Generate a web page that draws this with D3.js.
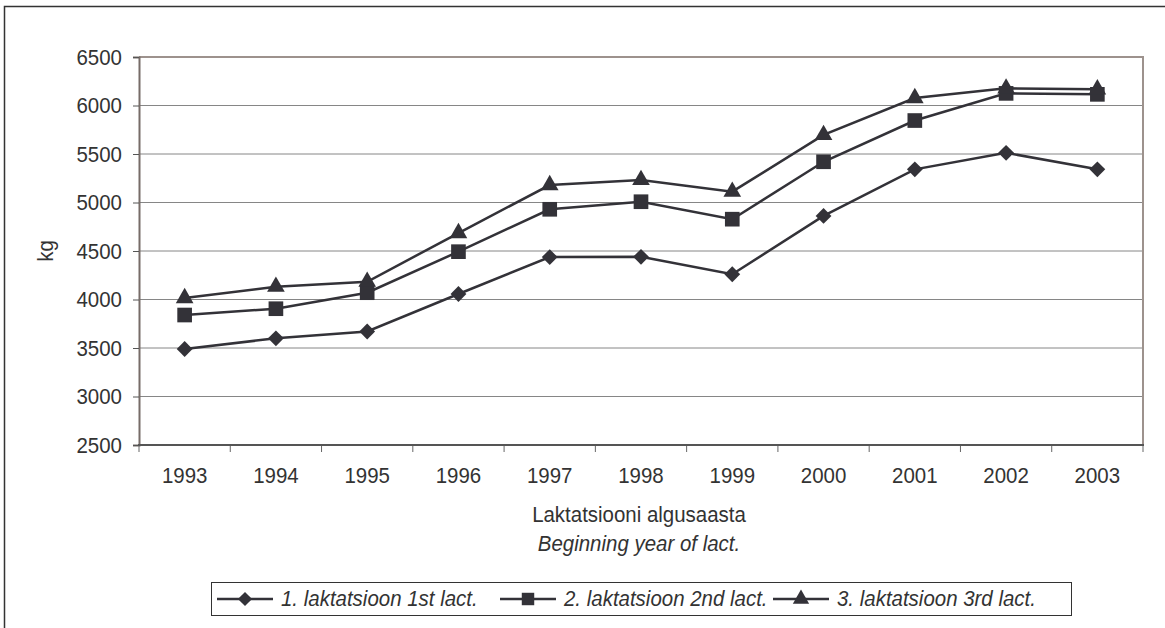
<!DOCTYPE html>
<html><head><meta charset="utf-8">
<script src="https://cdn.jsdelivr.net/npm/d3@7"></script>
<style>
html,body{margin:0;padding:0;background:#fff;}
svg text{font-family:"Liberation Sans",Arial,sans-serif;fill:#333;}
</style></head>
<body>
<svg id="chart" width="1165" height="628"></svg>
<script>
const years = ["1993","1994","1995","1996","1997","1998","1999","2000","2001","2002","2003"];
const lact1 = [3490,3600,3670,4057,4437,4440,4260,4862,5342,5512,5342];
const lact2 = [3840,3905,4070,4493,4930,5008,4828,5420,5845,6125,6115];
const lact3 = [4015,4132,4183,4685,5180,5233,5112,5697,6077,6177,6167];
const yTicks = [2500,3000,3500,4000,4500,5000,5500,6000,6500];
const seriesNames = ["1. laktatsioon 1st lact.","2. laktatsioon 2nd lact.","3. laktatsioon 3rd lact."];

const FS = "22px", SX = 0.93;
const svg = d3.select("#chart");
const m = {left:139, right:1143, top:57, bottom:445};

// outer frame
svg.append("rect").attr("x",4.5).attr("y",6.5).attr("width",1180).attr("height",640)
  .attr("fill","none").attr("stroke","#333").attr("stroke-width",1.5);

const x = d3.scaleBand().domain(years).range([m.left,m.right]).padding(0);
const y = d3.scaleLinear().domain([2500,6500]).range([m.bottom,m.top]);

// marker generators
const markers = [
  {type:d3.symbolSquare, size:125, rot:45},
  {type:d3.symbolSquare, size:215, rot:0},
  {type:d3.symbolTriangle, size:135, rot:0}
];
const legendMarkers = [
  {type:d3.symbolSquare, size:100, rot:45},
  {type:d3.symbolSquare, size:155, rot:0},
  {type:d3.symbolTriangle, size:115, rot:0}
];

// gridlines
svg.append("g").selectAll("line").data(yTicks.filter(v=>v>2500 && v<6500)).join("line")
  .attr("x1",m.left).attr("x2",m.right).attr("y1",d=>y(d)).attr("y2",d=>y(d))
  .attr("stroke","#868686").attr("stroke-width",1);

// plot border top/right
svg.append("path").attr("d",`M${m.left},${m.top} H${m.right} V${m.bottom}`)
  .attr("fill","none").attr("stroke","#9d928d").attr("stroke-width",2);

// y axis
const yAxis = d3.axisLeft(y).tickValues(yTicks).tickFormat(d3.format("d")).tickSize(6).tickPadding(0);
const gy = svg.append("g").attr("transform",`translate(${m.left},0)`).call(yAxis);
gy.select(".domain").attr("stroke","#776c68").attr("stroke-width",2);
gy.selectAll(".tick line").attr("stroke","#555");
gy.selectAll(".tick text").style("font-size",FS).attr("fill","#333")
  .attr("x",0).attr("transform",`translate(-17,0) scale(${SX},1)`);

// x axis
const xAxis = d3.axisBottom(x).tickSize(0).tickPadding(0);
const gx = svg.append("g").attr("transform",`translate(0,${m.bottom})`).call(xAxis);
gx.select(".domain").remove();
gx.selectAll(".tick text").style("font-size",FS).attr("fill","#333")
  .attr("y",0).attr("dy",null).attr("dominant-baseline","central")
  .attr("transform",`translate(0,31) scale(${SX},1)`);
// boundary ticks
const bounds = years.map(d=>x(d)).concat([m.right]);
svg.append("g").selectAll("line").data(bounds).join("line")
  .attr("x1",d=>d).attr("x2",d=>d).attr("y1",m.bottom).attr("y2",m.bottom+7)
  .attr("stroke","#666").attr("stroke-width",1);
svg.append("line").attr("x1",m.left-1).attr("x2",m.right+1).attr("y1",m.bottom).attr("y2",m.bottom)
  .attr("stroke","#555").attr("stroke-width",2);

function label(tx,ty,txt,opts={}){
  const t = svg.append("text")
    .attr("transform",`translate(${tx},${ty}) ${opts.rot?`rotate(${opts.rot})`:""} scale(${SX},1)`)
    .attr("text-anchor",opts.anchor||"middle").attr("dominant-baseline","central")
    .style("font-size",FS).text(txt);
  if(opts.italic) t.style("font-style","italic");
  return t;
}
// axis titles
svg.append("text").attr("transform",`translate(46,251) rotate(-90) scale(${SX},1)`)
  .attr("text-anchor","middle").attr("dominant-baseline","central").style("font-size",FS).text("kg");
label(639,515,"Laktatsiooni algusaasta");
label(639,544,"Beginning year of lact.",{italic:true});

// series
const data = [lact1,lact2,lact3];
const cx = d => x(d) + x.bandwidth()/2;
const line = d3.line().x((d,i)=>cx(years[i])).y(d=>y(d));
data.forEach((vals)=>{
  svg.append("path").datum(vals).attr("d",line).attr("fill","none")
    .attr("stroke","#333238").attr("stroke-width",2.5);
});
data.forEach((vals,si)=>{
  const mk = markers[si];
  svg.append("g").selectAll("path").data(vals).join("path")
    .attr("transform",(d,i)=>`translate(${cx(years[i])},${y(d)}) rotate(${mk.rot})`)
    .attr("d",d3.symbol().type(mk.type).size(mk.size))
    .attr("fill","#333238");
});

// legend
const lg = svg.append("g");
lg.append("rect").attr("x",211.5).attr("y",582.5).attr("width",860).attr("height",33)
  .attr("fill","#fff").attr("stroke","#333").attr("stroke-width",1);
const lx = [217,500,773];
seriesNames.forEach((n,i)=>{
  const g = lg.append("g").attr("transform",`translate(${lx[i]},599)`);
  g.append("line").attr("x1",0).attr("x2",56).attr("stroke","#333238").attr("stroke-width",2.5);
  const mk = legendMarkers[i];
  g.append("path").attr("transform",`translate(28,0) rotate(${mk.rot})`)
    .attr("d",d3.symbol().type(mk.type).size(mk.size)).attr("fill","#333238");
  g.append("text").attr("transform",`translate(64,0) scale(${SX},1)`).attr("dominant-baseline","central")
    .style("font-size",FS).style("font-style","italic").text(n);
});
</script>
</body></html>
